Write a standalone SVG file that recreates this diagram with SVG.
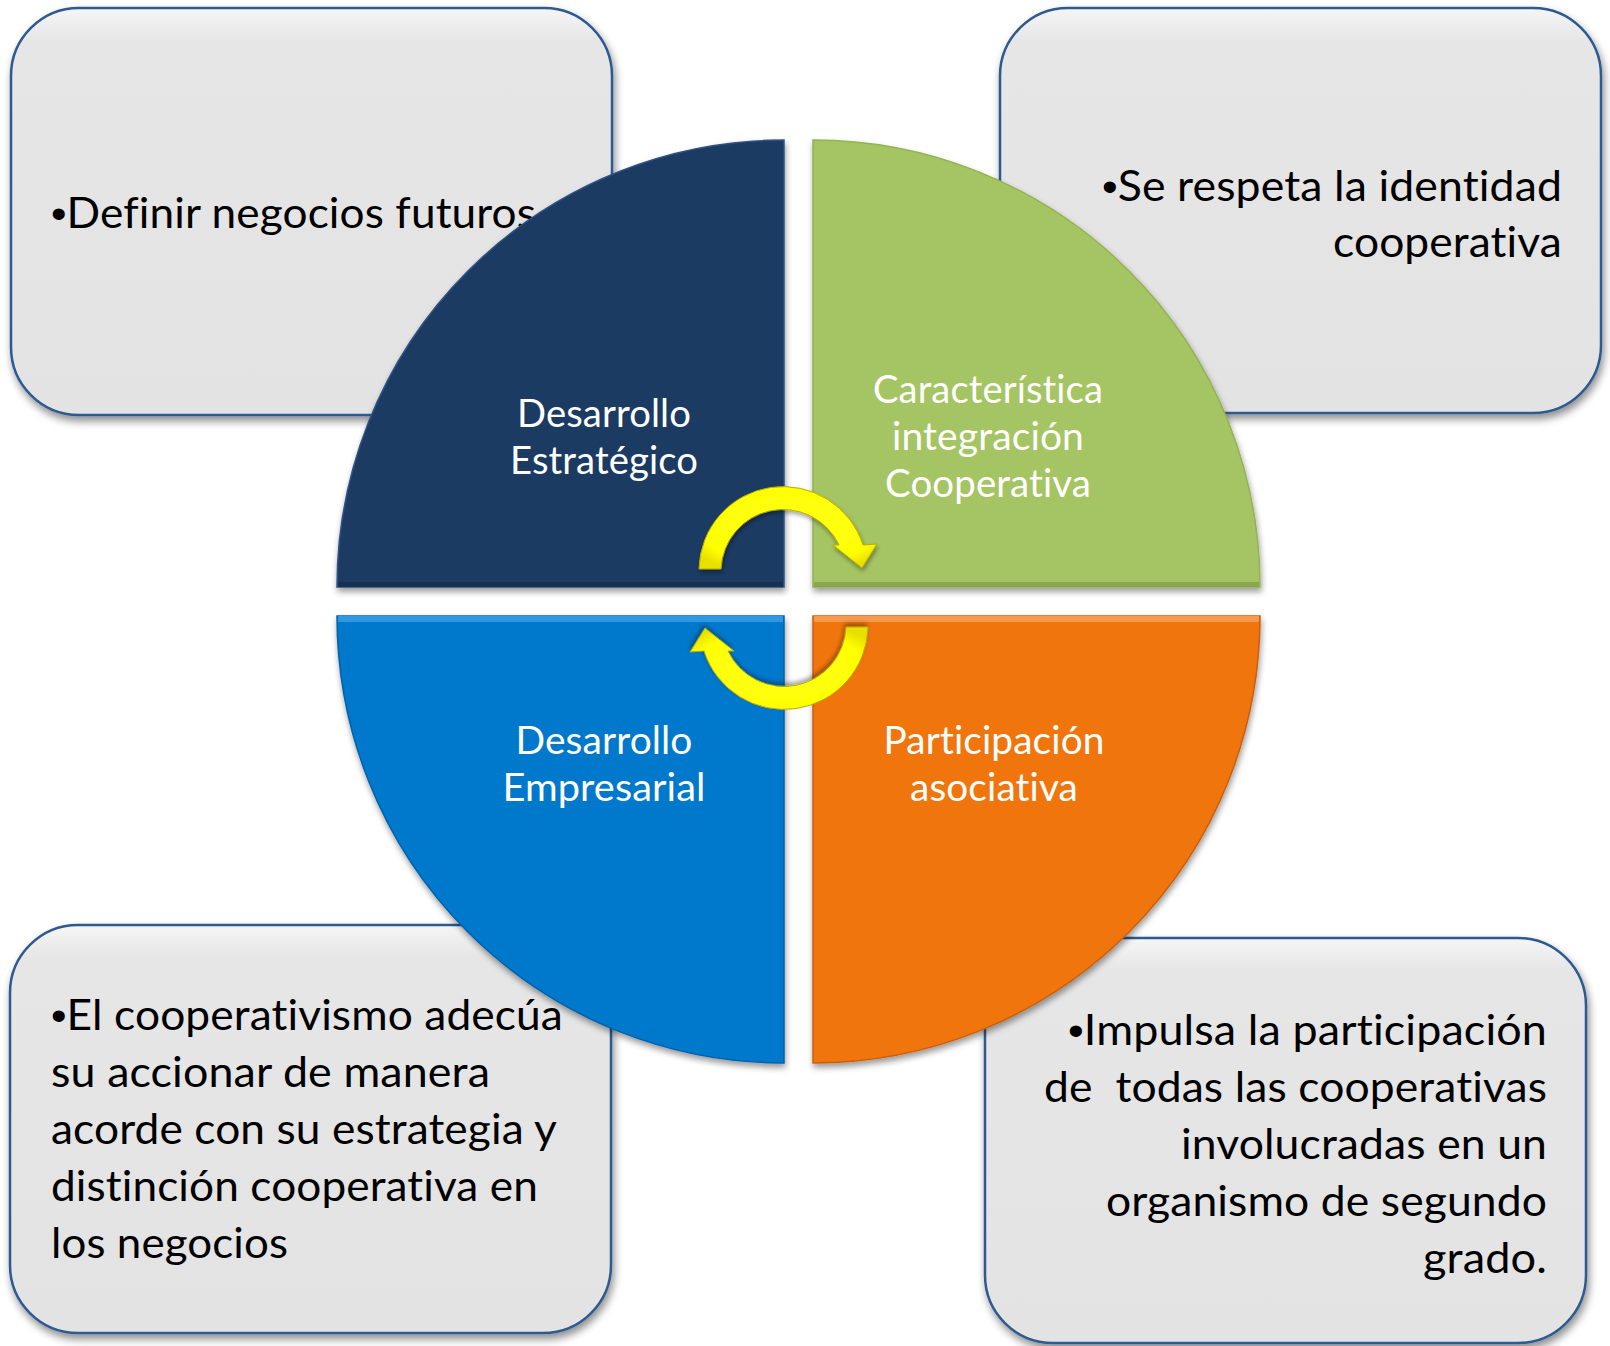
<svg xmlns="http://www.w3.org/2000/svg" width="1610" height="1346" viewBox="0 0 1610 1346">
  <style>
    text { font-variant-ligatures: none; font-feature-settings: "liga" 0, "clig" 0, "dlig" 0; letter-spacing: 0.1px; }
    .box { fill: url(#boxGrad); stroke: #2D5A8F; stroke-width: 2.5; filter: url(#boxShadow); }
    .btxt { font-family: Lato, "Liberation Sans", sans-serif; font-size: 42px; fill: #000000; }
    .bul { font-family: "Liberation Sans", sans-serif; }
    .qtxt { font-family: Lato, "Liberation Sans", sans-serif; font-size: 38px; fill: #FFFFFF; text-anchor: middle; }
    .quad { filter: url(#quadShadow); }
    .arrow { fill: url(#arrowGrad); stroke: #B5AC00; stroke-width: 1; filter: url(#arrowShadow); }
  </style>
  <defs>
    <linearGradient id="boxGrad" x1="0" y1="0" x2="0" y2="1">
      <stop offset="0" stop-color="#F6F6F6"/>
      <stop offset="0.08" stop-color="#E6E6E6"/>
      <stop offset="1" stop-color="#E3E3E3"/>
    </linearGradient>
    <radialGradient id="arrowGrad" cx="0.5" cy="0.5" r="0.6">
      <stop offset="0" stop-color="#FFFF20"/>
      <stop offset="0.8" stop-color="#FFFF00"/>
      <stop offset="1" stop-color="#E8E000"/>
    </radialGradient>
    <filter id="boxShadow" x="-5%" y="-5%" width="112%" height="115%">
      <feGaussianBlur in="SourceAlpha" stdDeviation="4"/>
      <feOffset dx="2" dy="5" result="b"/>
      <feComponentTransfer><feFuncA type="linear" slope="0.45"/></feComponentTransfer>
      <feMerge><feMergeNode/><feMergeNode in="SourceGraphic"/></feMerge>
    </filter>
    <filter id="quadShadow" x="-5%" y="-5%" width="112%" height="115%">
      <feGaussianBlur in="SourceAlpha" stdDeviation="3"/>
      <feOffset dx="1" dy="4" result="b"/>
      <feComponentTransfer><feFuncA type="linear" slope="0.4"/></feComponentTransfer>
      <feMerge><feMergeNode/><feMergeNode in="SourceGraphic"/></feMerge>
    </filter>
    <filter id="arrowShadow" x="-10%" y="-10%" width="125%" height="130%">
      <feGaussianBlur in="SourceAlpha" stdDeviation="2"/>
      <feOffset dx="1" dy="3" result="b"/>
      <feComponentTransfer><feFuncA type="linear" slope="0.35"/></feComponentTransfer>
      <feMerge><feMergeNode/><feMergeNode in="SourceGraphic"/></feMerge>
    </filter>
  </defs>

  <!-- Text boxes -->
  <g id="box-definir">
    <rect class="box" x="11" y="8" width="601" height="407" rx="68" ry="68"/>
    <text class="btxt" x="51" y="228" textLength="485" lengthAdjust="spacingAndGlyphs"><tspan class="bul">•</tspan>Definir negocios futuros</text>
  </g>
  <g id="box-identidad">
    <rect class="box" x="1000" y="8" width="601" height="405" rx="68" ry="68"/>
    <text class="btxt" text-anchor="end" x="1562" y="201" textLength="460" lengthAdjust="spacingAndGlyphs"><tspan class="bul">•</tspan>Se respeta la identidad</text>
    <text class="btxt" text-anchor="end" x="1562" y="257" textLength="229" lengthAdjust="spacingAndGlyphs">cooperativa</text>
  </g>
  <g id="box-cooperativismo">
    <rect class="box" x="10" y="925" width="601" height="408" rx="68" ry="68"/>
    <text class="btxt" x="51" y="1030" textLength="512" lengthAdjust="spacingAndGlyphs"><tspan class="bul">•</tspan>El cooperativismo adecúa</text>
    <text class="btxt" x="51" y="1087" textLength="439" lengthAdjust="spacingAndGlyphs">su accionar de manera</text>
    <text class="btxt" x="51" y="1144" textLength="506" lengthAdjust="spacingAndGlyphs">acorde con su estrategia y</text>
    <text class="btxt" x="51" y="1201" textLength="487" lengthAdjust="spacingAndGlyphs">distinción cooperativa en</text>
    <text class="btxt" x="51" y="1258" textLength="237" lengthAdjust="spacingAndGlyphs">los negocios</text>
  </g>
  <g id="box-impulsa">
    <rect class="box" x="985" y="938" width="601" height="405" rx="68" ry="68"/>
    <text class="btxt" text-anchor="end" x="1547" y="1045" textLength="479" lengthAdjust="spacingAndGlyphs"><tspan class="bul">•</tspan>Impulsa la participación</text>
    <text class="btxt" text-anchor="end" x="1547" y="1102" textLength="503" lengthAdjust="spacingAndGlyphs" xml:space="preserve">de  todas las cooperativas</text>
    <text class="btxt" text-anchor="end" x="1547" y="1159" textLength="366" lengthAdjust="spacingAndGlyphs">involucradas en un</text>
    <text class="btxt" text-anchor="end" x="1547" y="1216" textLength="441" lengthAdjust="spacingAndGlyphs">organismo de segundo</text>
    <text class="btxt" text-anchor="end" x="1547" y="1273" textLength="124" lengthAdjust="spacingAndGlyphs">grado.</text>
  </g>

  <!-- Quadrants -->
  <g id="quad-estrategico">
    <path class="quad" d="M 784 587 L 337 587 A 447 447 0 0 1 784 140 Z" fill="#1F3B63" stroke="#2F5283" stroke-width="1.5"/>
    <rect x="338" y="582" width="445" height="5" fill="#172E4E" opacity="0.8"/>
    <text class="qtxt" x="604" y="427" textLength="174" lengthAdjust="spacingAndGlyphs">Desarrollo</text>
    <text class="qtxt" x="604" y="474" textLength="188" lengthAdjust="spacingAndGlyphs">Estratégico</text>
  </g>
  <g id="quad-integracion">
    <path class="quad" d="M 813 587 L 813 140 A 447 447 0 0 1 1260 587 Z" fill="#A5C463" stroke="#93B352" stroke-width="1.5"/>
    <rect x="814" y="582" width="445" height="5" fill="#7F9A48" opacity="0.7"/>
    <text class="qtxt" x="988" y="403" textLength="230" lengthAdjust="spacingAndGlyphs">Característica</text>
    <text class="qtxt" x="988" y="450" textLength="192" lengthAdjust="spacingAndGlyphs">integración</text>
    <text class="qtxt" x="988" y="497" textLength="206" lengthAdjust="spacingAndGlyphs">Cooperativa</text>
  </g>
  <g id="quad-empresarial">
    <path class="quad" d="M 784 616 L 784 1063 A 447 447 0 0 1 337 616 Z" fill="#0678CB" stroke="#0562A8" stroke-width="1.5"/>
    <rect x="338" y="616" width="445" height="6" fill="#2E97E6"/>
    <text class="qtxt" x="604" y="754" textLength="177" lengthAdjust="spacingAndGlyphs">Desarrollo</text>
    <text class="qtxt" x="604" y="801" textLength="203" lengthAdjust="spacingAndGlyphs">Empresarial</text>
  </g>
  <g id="quad-asociativa">
    <path class="quad" d="M 813 616 L 1260 616 A 447 447 0 0 1 813 1063 Z" fill="#F17511" stroke="#C95F0A" stroke-width="1.5"/>
    <rect x="814" y="616" width="445" height="6" fill="#F6994A"/>
    <text class="qtxt" x="994" y="754" textLength="221" lengthAdjust="spacingAndGlyphs">Participación</text>
    <text class="qtxt" x="994" y="801" textLength="168" lengthAdjust="spacingAndGlyphs">asociativa</text>
  </g>

  <!-- Connectors (circular arrows) -->
  <g id="connectors">
    <path id="arrow-top" class="arrow" d="M 699 569 A 84 84 0 0 1 863 545 L 877 544 L 862 568 L 833 545 L 839 545 A 62 62 0 0 0 721 569 Z"/>
    <path id="arrow-bottom" class="arrow" transform="rotate(180 783.5 598)" d="M 699 569 A 84 84 0 0 1 863 545 L 877 544 L 862 568 L 833 545 L 839 545 A 62 62 0 0 0 721 569 Z"/>
  </g>
</svg>
